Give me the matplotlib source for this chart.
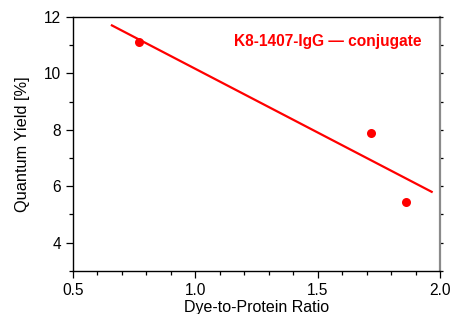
import matplotlib.pyplot as plt
from matplotlib.ticker import MultipleLocator

# measured points
ratio = [0.77, 1.72, 1.86]
qy = [11.1, 7.9, 5.42]

# fitted line (end points)
fit_x = [0.655, 1.97]
fit_y = [11.72, 5.78]

label = "K8-1407-IgG \u2014 conjugate"

plt.rcParams['font.family'] = ['Liberation Sans', 'DejaVu Sans']

fig = plt.figure(figsize=(4.52, 3.14), dpi=100)
ax = fig.add_axes([73 / 452, 1 - 270.7 / 314, 367 / 452, 253.7 / 314])

ax.plot(fit_x, fit_y, color='red', lw=1.6, solid_capstyle='butt')
ax.plot(ratio, qy, 'o', color='red', ms=6.5, mec='none')

ax.text(0.695, 0.905, label, transform=ax.transAxes, color='red',
        fontsize=11.2, fontweight='bold', ha='center', va='center')

ax.set_xlim(0.5, 2.0)
ax.set_ylim(3, 12)
ax.xaxis.set_minor_locator(MultipleLocator(0.1))
ax.yaxis.set_minor_locator(MultipleLocator(1))
ax.set_xticks([0.5, 1.0, 1.5, 2.0])
ax.set_xticklabels(['0.5', '1.0', '1.5', '2.0'])
ax.set_yticks([4, 6, 8, 10, 12])

ax.tick_params(which='both', direction='out', labelsize=11.2, width=0.9)
ax.tick_params(which='major', length=5)
ax.tick_params(which='minor', length=3)
# small ticks on the grey right spine
ax.tick_params(axis='y', which='both', right=True, labelright=False)
ax_r = ax.secondary_yaxis('right')
ax.tick_params(axis='y', which='both', right=False)
ax_r.set_yticks([4, 6, 8, 10, 12])
ax_r.yaxis.set_minor_locator(MultipleLocator(1))
ax_r.tick_params(which='both', length=2, width=0.9, labelright=False)
ax_r.spines['right'].set_color('#8a8a8a')
ax_r.spines['right'].set_linewidth(1.6)

for side in ['left', 'bottom', 'top']:
    ax.spines[side].set_linewidth(1.0)
ax.spines['right'].set_visible(False)

ax.set_xlabel('Dye-to-Protein Ratio', fontsize=11.5, labelpad=1.5)
ax.set_ylabel('Quantum Yield [%]', fontsize=11.8, labelpad=10)

fig.savefig('out.png', dpi=100)
